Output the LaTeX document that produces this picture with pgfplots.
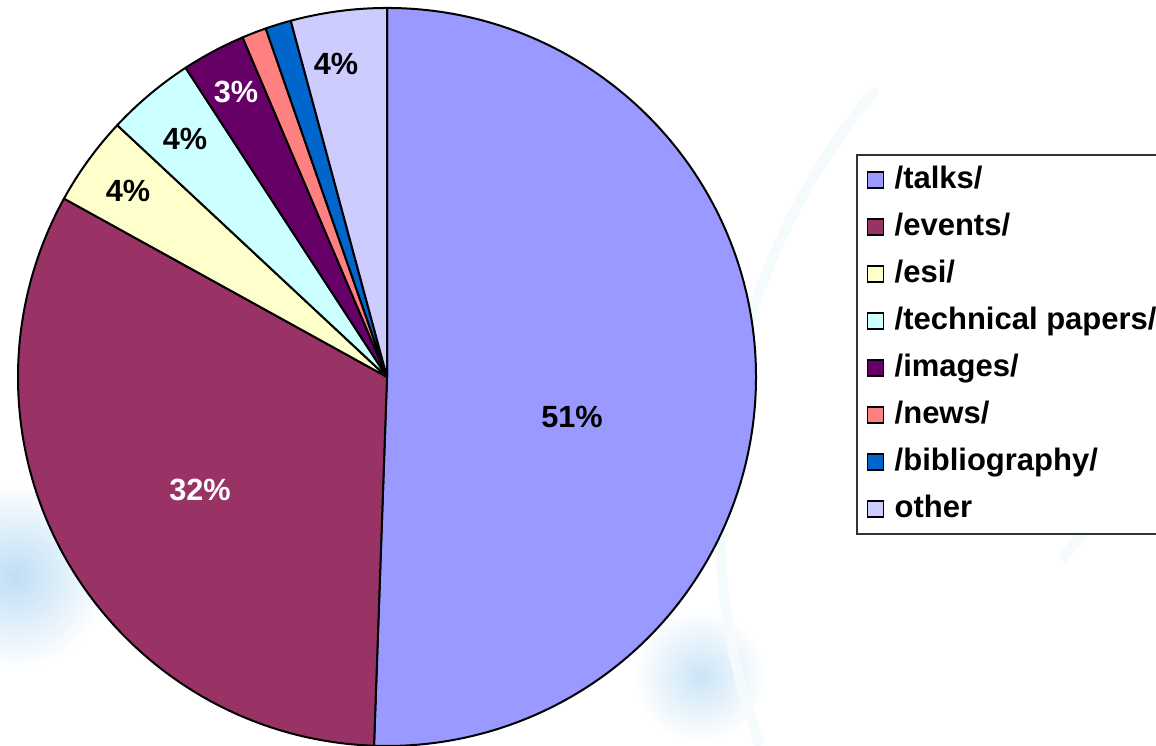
\documentclass[border=0pt]{standalone}
\usepackage{pgfplots}
\usepackage{pgfplotstable}
\pgfplotsset{compat=1.18}
\usepackage{fontspec}
\setmainfont{Liberation Sans}

\definecolor{cTalks}{HTML}{9999FF}
\definecolor{cEvents}{HTML}{993366}
\definecolor{cEsi}{HTML}{FFFFCC}
\definecolor{cTech}{HTML}{CCFFFF}
\definecolor{cImages}{HTML}{660066}
\definecolor{cNews}{HTML}{FF8080}
\definecolor{cBib}{HTML}{0066CC}
\definecolor{cOther}{HTML}{CCCCFF}
\definecolor{glow}{RGB}{190,222,245}

% share in percent, slice colour, label position in pixels (x from left, y from top)
\pgfplotstableread[col sep=comma]{
name,share,col,lx,ly,tc
/talks/,50.56,cTalks,572,417,black
/events/,32.47,cEvents,200,490,white
/esi/,3.92,cEsi,128,191,black
/technical papers/,3.86,cTech,185,139,black
/images/,2.79,cImages,236,92,white
/news/,1.07,cNews,-1,-1,black
/bibliography/,1.13,cBib,-1,-1,black
other,4.20,cOther,336,64,black
}\piedata

\tikzset{pielabel/.style={font=\bfseries\fontsize{9.2}{10}\selectfont, inner sep=0pt}}

\begin{document}
\begin{tikzpicture}
\useasboundingbox (0,0) rectangle (346.8pt,223.8pt);
\clip (0,0) rectangle (346.8pt,223.8pt);
\begin{axis}[
    x=0.3pt, y=0.3pt,
    xmin=0, xmax=1156, ymin=0, ymax=746,
    hide axis, clip=false,
    legend cell align=left,
    legend style={at={(0.7405,0.7936)}, anchor=north west,
      draw=black!80, line width=0.6pt, fill=white,
      font=\bfseries\fontsize{9.3}{10}\selectfont,
      inner xsep=3pt, inner ysep=2.5pt, row sep=4.0pt, column sep=2.3pt,
      nodes={text height=6.7pt, text depth=1.8pt, inner sep=0.8pt}},
    legend image code/.code={\draw[#1, draw=black, line width=0.4pt] (0pt,-2.4pt) rectangle (4.8pt,2.4pt);},
]
% faint background
\fill[white] (axis cs:0,0) rectangle (axis cs:1156,746);
\shade[inner color=glow, outer color=white] (axis cs:15,170) circle[radius=28pt];
\shade[inner color=glow!80, outer color=white] (axis cs:700,70) circle[radius=20pt];
\draw[glow!15, line width=3pt] (axis cs:760,0) arc[start angle=200, end angle=140, radius=200pt];
\draw[glow!15, line width=3pt] (axis cs:1156,540) arc[start angle=10, end angle=-40, radius=130pt];

\pgfplotstablegetrowsof{\piedata}
\pgfmathtruncatemacro\nlast{\pgfplotsretval-1}
\def\cum{0}
\pgfplotsforeachungrouped \i in {0,...,\nlast}{%
  \pgfplotstablegetelem{\i}{share}\of\piedata \let\v\pgfplotsretval
  \pgfplotstablegetelem{\i}{col}\of\piedata \let\c\pgfplotsretval
  \pgfplotstablegetelem{\i}{name}\of\piedata \let\n\pgfplotsretval
  \pgfmathsetmacro\a{90-3.6*\cum}
  \pgfmathsetmacro\b{90-3.6*(\cum+\v)}
  \edef\cmd{\noexpand\filldraw[fill=\c, draw=black, line width=0.6pt, line join=round]
    (axis cs:387,369) -- ++(\a:110.7pt) arc[start angle=\a, end angle=\b, radius=110.7pt] -- cycle;}
  \cmd
  \edef\cmd{\noexpand\addlegendimage{fill=\c}}
  \cmd
  \addlegendentryexpanded{\n}
  \pgfmathsetmacro\cum{\cum+\v}
}
\pgfplotsforeachungrouped \i in {0,...,\nlast}{%
  \pgfplotstablegetelem{\i}{share}\of\piedata \let\v\pgfplotsretval
  \pgfplotstablegetelem{\i}{lx}\of\piedata \let\lx\pgfplotsretval
  \pgfplotstablegetelem{\i}{ly}\of\piedata \let\ly\pgfplotsretval
  \pgfplotstablegetelem{\i}{tc}\of\piedata \let\tc\pgfplotsretval
  \pgfmathtruncatemacro\p{round(\v)}
  \pgfmathsetmacro\yy{746-\ly}
  \ifdim\lx pt>0pt
    \edef\cmd{\noexpand\node[pielabel, text=\tc] at (axis cs:\lx,\yy) {\p\noexpand\%};}
    \cmd
  \fi
}
\end{axis}
\end{tikzpicture}
\end{document}
